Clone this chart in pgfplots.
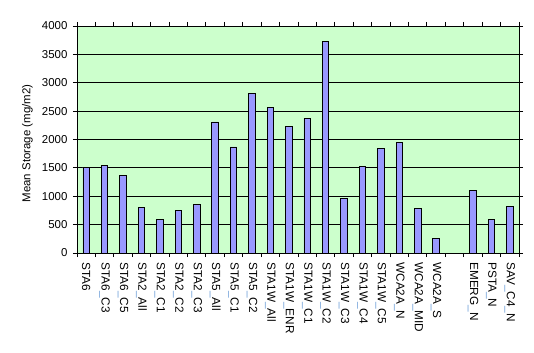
\documentclass[border=0pt]{standalone}
\usepackage{fontspec}
\setmainfont{Liberation Sans}
\usepackage{pgfplots}
\pgfplotsset{compat=1.18}
\definecolor{bgc}{HTML}{CCFFCC}
\definecolor{barc}{HTML}{9999FF}
\definecolor{usc}{HTML}{6FA0D8}
\newcommand{\us}{\textcolor{usc}{\_}}
\begin{document}
\begin{tikzpicture}
\useasboundingbox (0,0) rectangle (534bp,353bp);
\begin{axis}[
  at={(77bp,100bp)}, anchor=south west,
  width=442bp, height=227bp, scale only axis,
  axis background/.style={fill=bgc},
  axis line style={black, line width=0.9bp},
  xmin=-0.5, xmax=23.5, ymin=0, ymax=4000,
  ytick={0,500,...,4000},
  ymajorgrids, grid style={black, line width=0.9bp},
  tick align=outside, major tick length=4bp, minor tick length=4bp,
  major x tick style={draw=none},
  minor x tick style={black, line width=0.9bp},
  major y tick style={black, line width=0.9bp},
  xtick={0,...,23},
  minor xtick={-0.5,0.5,...,23.5},
  xticklabels={STA6, STA6\us C3, STA6\us C5, STA2\us All, STA2\us C1, STA2\us C2, STA2\us C3, STA5\us All, STA5\us C1, STA5\us C2, STA1W\us All, STA1W\us ENR, STA1W\us C1, STA1W\us C2, STA1W\us C3, STA1W\us C4, STA1W\us C5, WCA2A\us N, WCA2A\us MID, WCA2A\us S, {}, EMERG\us N, PSTA\us N, SAV\us C4\us N},
  x tick label style={rotate=-90, anchor=west, font=\fontsize{11.8}{13}\selectfont},
  xticklabel shift=2bp,
  y tick label style={font=\fontsize{11.5}{13}\selectfont, xshift=-2bp},
  /pgf/number format/1000 sep={},
  /pgf/number format/assume math mode=true,
  every axis y label/.style={at={(axis description cs:0,0.5)}, xshift=-49.5bp, yshift=-4bp, rotate=90, anchor=center, font=\fontsize{11.5}{13}\selectfont},
  ylabel={Mean Storage (mg/m2)},
  ybar, bar width=6.5bp,
]
\addplot[fill=barc, draw=black, line width=0.8bp] coordinates {
(0,1515) (1,1535) (2,1360) (3,795) (4,585) (5,744) (6,848) (7,2310) (8,1868) (9,2815)
(10,2567) (11,2232) (12,2373) (13,3730) (14,965) (15,1527) (16,1845) (17,1950)
(18,787) (19,259) (21,1105) (22,594) (23,823)
};
\end{axis}
\end{tikzpicture}
\end{document}
